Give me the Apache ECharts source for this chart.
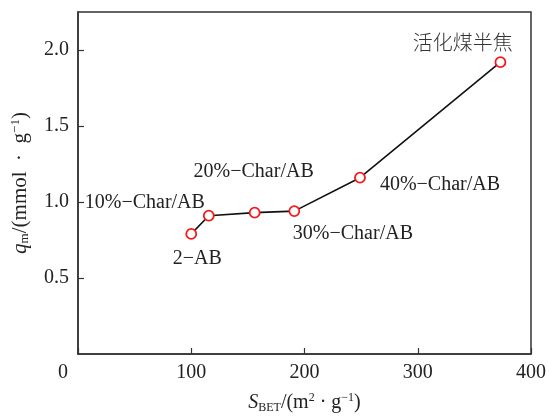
<!DOCTYPE html>
<html><head><meta charset="utf-8">
<script src="https://cdn.jsdelivr.net/npm/echarts@6/dist/echarts.min.js"></script>
<style>html,body{margin:0;padding:0;background:#fff}#c{width:549px;height:419px}</style>
</head><body><div id="c"></div>
<script>
// ---- data ----
const sampleNames = ['2−AB', '10%−Char/AB', '20%−Char/AB', '30%−Char/AB', '40%−Char/AB', '活化煤半焦'];
const surfaceArea = [100, 115.5, 156, 191, 249, 373];      // S_BET (m2/g)
const adsorption  = [0.79, 0.91, 0.93, 0.94, 1.16, 1.92];   // q_m (mmol/g)
const xTickValues = [0, 100, 200, 300, 400];
const yTickValues = [0.5, 1.0, 1.5, 2.0];

// ---- styling (label placement relative to each marker) ----
const labelOffsets = [[6, 24.5], [-64, -12.5], [-1, -41], [58.6, 22.4], [80, 7], [-37.7, -19.3]];
const serif = '"Liberation Serif", "Times New Roman", serif';
const cjk = '"Noto Sans CJK SC", sans-serif';

const chart = echarts.init(document.getElementById('c'), null, {renderer: 'canvas'});
const points = surfaceArea.map((x, i) => {
  const isCJK = /[\u4e00-\u9fff]/.test(sampleNames[i]);
  return {
    value: [x, adsorption[i]],
    name: sampleNames[i],
    label: {
      offset: labelOffsets[i],
      fontFamily: isCJK ? cjk : serif,
      fontWeight: isCJK ? 300 : 'normal',
      color: isCJK ? '#333' : '#222',
      fontSize: 20
    }
  };
});

chart.setOption({
  animation: false,
  backgroundColor: '#fff',
  grid: {left: 78, right: 17, top: 12, bottom: 60, show: true, borderColor: '#333', borderWidth: 1.5, containLabel: false},
  xAxis: {
    type: 'value', min: xTickValues[0], max: xTickValues[xTickValues.length - 1], interval: 100,
    splitLine: {show: false},
    axisLine: {show: true, lineStyle: {color: '#333', width: 1.5}},
    axisTick: {show: true, inside: true, length: 6, lineStyle: {color: '#333', width: 1.2}},
    axisLabel: {
      margin: 9, color: '#222', fontSize: 20, fontFamily: serif,
      formatter: v => v === 0 ? '{z|0}' : String(v),
      rich: {z: {fontSize: 20, fontFamily: serif, color: '#222', padding: [0, 30, 0, 0]}}
    },
    name: '{i|S}{sub|BET}{n|/(m}{sup|2}{n| · g}{sup|−1}{n|)}',
    nameLocation: 'middle', nameGap: 38,
    nameTextStyle: {
      rich: {
        i: {fontSize: 20, fontStyle: 'italic', fontFamily: serif, color: '#222', lineHeight: 22},
        n: {fontSize: 20, fontFamily: serif, color: '#222', lineHeight: 22},
        sub: {fontSize: 12, fontFamily: serif, color: '#222', verticalAlign: 'bottom', lineHeight: 12},
        sup: {fontSize: 12, fontFamily: serif, color: '#222', verticalAlign: 'top', lineHeight: 12}
      }
    }
  },
  yAxis: {
    type: 'value', min: 0, max: 2.25, interval: 0.5,
    splitLine: {show: false},
    axisLine: {show: true, lineStyle: {color: '#333', width: 1.5}},
    axisTick: {show: true, inside: true, length: 6, lineStyle: {color: '#333', width: 1.2}},
    axisLabel: {
      margin: 9, color: '#222', fontSize: 20, fontFamily: serif,
      showMinLabel: false, showMaxLabel: false,
      formatter: v => yTickValues.some(t => Math.abs(t - v) < 1e-9) ? v.toFixed(1) : ''
    },
    name: '{i|q}{sub|m}{n|/(mmol  ·  g}{sup|−1}{n|)}',
    nameLocation: 'middle', nameGap: 47,
    nameTextStyle: {
      rich: {
        i: {fontSize: 21, fontStyle: 'italic', fontFamily: serif, color: '#222', lineHeight: 22},
        n: {fontSize: 21, fontFamily: serif, color: '#222', lineHeight: 22},
        sub: {fontSize: 13, fontFamily: serif, color: '#222', verticalAlign: 'bottom', lineHeight: 12},
        sup: {fontSize: 13, fontFamily: serif, color: '#222', verticalAlign: 'top', lineHeight: 12}
      }
    }
  },
  series: [{
    type: 'line',
    data: points,
    symbol: 'circle', symbolSize: 10,
    itemStyle: {color: '#fff', borderColor: '#f21b1b', borderWidth: 1.8},
    lineStyle: {color: '#111', width: 1.6},
    label: {
      show: true, position: 'inside', formatter: p => p.name,
      fontSize: 20, color: '#222', align: 'center', verticalAlign: 'middle'
    },
    emphasis: {disabled: true}
  }]
});
</script></body></html>
